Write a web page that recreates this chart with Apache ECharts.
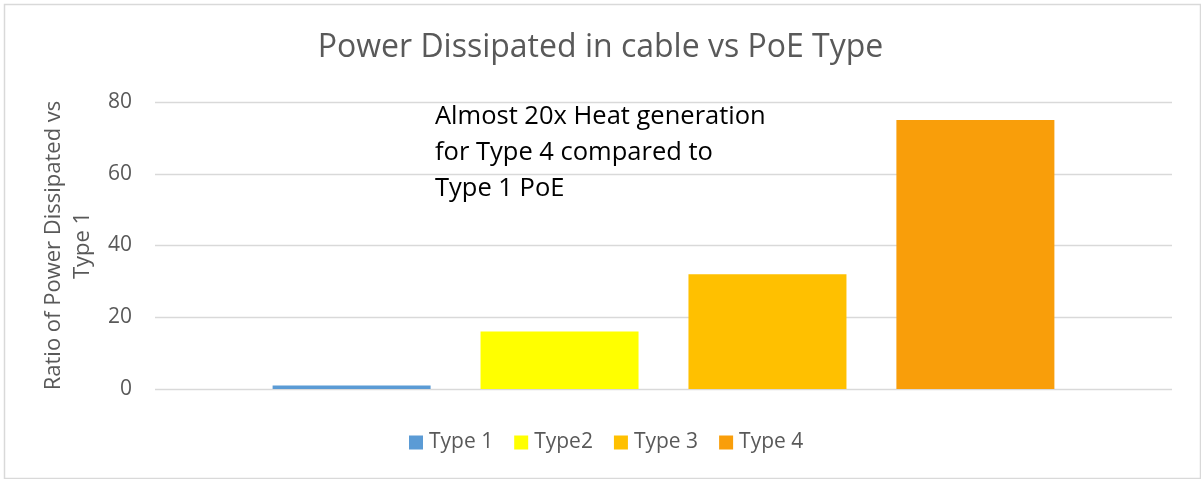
<!DOCTYPE html>
<html>
<head>
<meta charset="utf-8">
<script src="https://cdn.jsdelivr.net/npm/echarts@6/dist/echarts.min.js"></script>
<style>
html,body{margin:0;padding:0;background:#fff;}
#c{width:1201px;height:479px;}
</style>
</head>
<body>
<div id="c"></div>
<script>
const titleText = 'Power Dissipated in cable vs PoE Type';
const yAxisTitle = 'Ratio of Power Dissipated vs\nType 1';
const categories = [''];
const seriesNames = ['Type 1', 'Type2', 'Type 3', 'Type 4'];
const seriesValues = [1, 16, 32, 75];
const seriesColors = ['#5B9BD5', '#FFFF00', '#FFC000', '#F99E0A'];
const yTicks = [0, 20, 40, 60, 80];
const noteLines = ['Almost 20x Heat generation', 'for Type 4 compared to', 'Type 1 PoE'];

const font = '"Open Sans", sans-serif';
const chart = echarts.init(document.getElementById('c'));
chart.setOption({
  animation: false,
  backgroundColor: '#fff',
  title: {
    text: titleText, left: 'center', top: 27,
    textStyle: {fontFamily: font, fontSize: 32, fontWeight: 'normal', color: '#595959'}
  },
  legend: {
    top: 432, left: 409, padding: 0, itemWidth: 14, itemHeight: 14, itemGap: 21,
    icon: 'rect',
    textStyle: {fontFamily: font, fontSize: 21, color: '#595959', padding: [0, 0, 0, 1]},
    data: seriesNames
  },
  grid: {left: 155, right: 29, top: 102, bottom: 90},
  xAxis: {
    type: 'category', data: categories,
    axisLine: {show: false}, axisTick: {show: false}, axisLabel: {show: false}
  },
  yAxis: {
    type: 'value', min: yTicks[0], max: yTicks[yTicks.length - 1], interval: 20,
    name: yAxisTitle, nameLocation: 'middle', nameGap: 58, nameRotate: 90,
    nameTextStyle: {fontFamily: font, fontSize: 22, color: '#595959', lineHeight: 29},
    axisLine: {show: false}, axisTick: {show: false},
    axisLabel: {fontFamily: font, fontSize: 21, color: '#595959', margin: 23},
    splitLine: {lineStyle: {color: '#D9D9D9', width: 1.3}}
  },
  series: seriesNames.map((n, i) => ({
    name: n, type: 'bar', data: [seriesValues[i]],
    barWidth: 158, barGap: '31.6%',
    itemStyle: {color: seriesColors[i]}
  })),
  graphic: [
    {type: 'rect', left: 2, top: 2, shape: {width: 1196, height: 474},
     style: {fill: 'none', stroke: '#D9D9D9', lineWidth: 1.5}, silent: true},
    {type: 'text', left: 435, top: 99,
     style: {text: noteLines.join('\n'), fontFamily: font, fontSize: 25.5, lineHeight: 36, fill: '#000'}}
  ]
});
</script>
</body>
</html>
